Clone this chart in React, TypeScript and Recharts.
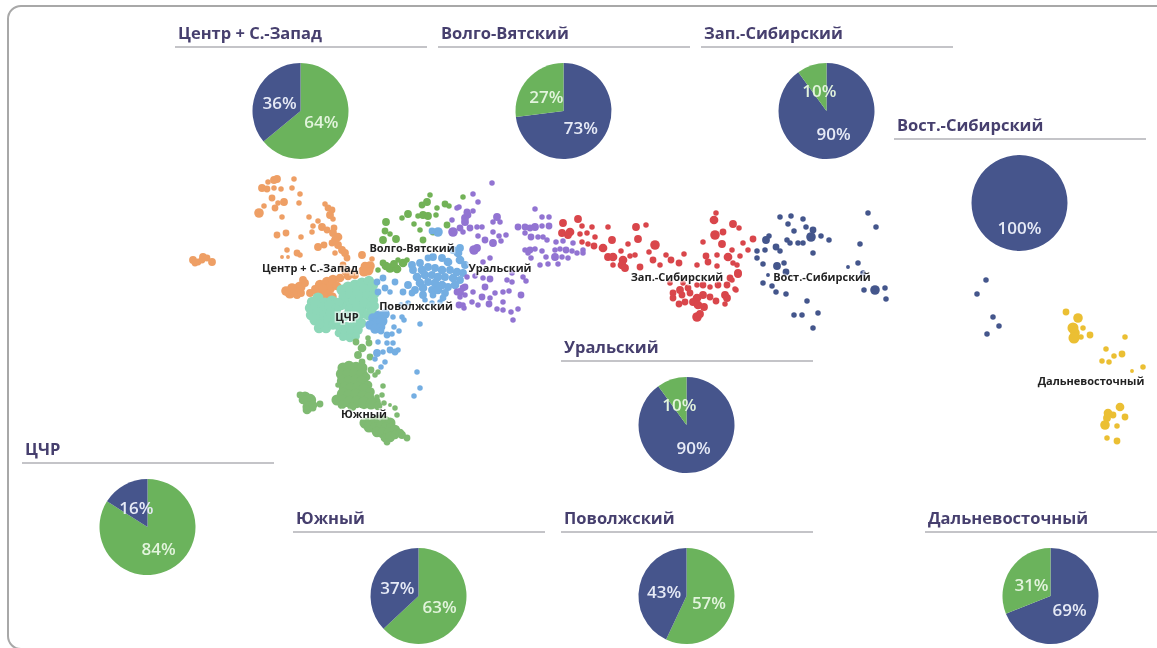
import React from 'react';
import { Pie, PieChart, Cell, Scatter, ScatterChart, XAxis, YAxis, ZAxis } from 'recharts';

const WIDTH = 1157;
const HEIGHT = 648;

const BLUE = '#46558c';
const GREEN = '#6bb35c';

// share panels
const panelNames = ['Центр + С.-Запад', 'Волго-Вятский', 'Зап.-Сибирский', 'Вост.-Сибирский', 'Уральский', 'ЦЧР', 'Южный', 'Поволжский', 'Дальневосточный'];
const blueShare = [36, 73, 90, 100, 90, 16, 37, 43, 69];
const greenShare = [64, 27, 10, 0, 10, 84, 63, 57, 31];
const blueFirst = [false, true, true, true, true, false, false, false, true];
const panelLeft = [175, 438, 701, 894, 561, 22, 293, 561, 925];
const panelRule = [46, 46, 46, 138, 360, 462, 531, 531, 531];

// map dots, [x, y, z]
const orangeDots = [
  [277, 179, 4], [274, 180, 4], [268, 182, 2], [294, 179, 2], [262, 188, 4], [267, 189, 3], [274, 188, 2], [281, 189, 2], [292, 188, 2], [300, 194, 2],
  [272, 198, 3], [284, 202, 4], [278, 203, 2], [275, 208, 3], [299, 203, 2], [264, 206, 2], [259, 213, 6], [282, 217, 2], [325, 204, 2], [328, 208, 3],
  [332, 210, 3], [330, 215, 4], [333, 219, 2], [309, 217, 2], [318, 221, 2], [313, 226, 2], [322, 227, 4], [327, 230, 3], [334, 228, 3], [312, 232, 2],
  [277, 235, 3], [286, 233, 3], [301, 237, 2], [333, 233, 4], [338, 237, 5], [335, 240, 4], [318, 247, 4], [324, 245, 3], [332, 243, 3], [338, 245, 4],
  [342, 250, 4], [345, 253, 4], [347, 258, 3], [335, 253, 2], [287, 250, 2], [297, 253, 3], [300, 255, 2], [282, 257, 1], [288, 257, 1], [362, 255, 4],
  [372, 259, 2], [368, 270, 8], [364, 271, 8], [370, 266, 6], [365, 266, 5], [290, 293, 8], [295, 290, 8], [300, 287, 8], [303, 280, 4], [292, 288, 6],
  [297, 295, 4], [286, 291, 6], [301, 293, 4], [310, 293, 4], [305, 283, 4], [320, 285, 7], [327, 282, 7], [333, 280, 7], [340, 278, 5], [318, 292, 7],
  [325, 293, 8], [332, 297, 6], [330, 288, 7], [337, 286, 5], [348, 276, 5], [355, 275, 4], [343, 265, 3], [343, 269, 2], [323, 288, 5], [315, 289, 4],
  [345, 272, 3], [326, 299, 5], [350, 272, 3], [193, 260, 4], [198, 262, 3], [203, 257, 4], [207, 258, 3], [212, 262, 4], [195, 263, 3], [202, 260, 3],
];
const mintDots = [
  [342, 290, 8], [348, 287, 8], [355, 285, 8], [362, 283, 8], [369, 281, 7], [373, 285, 7], [344, 297, 8], [351, 294, 8], [358, 292, 8], [365, 290, 8],
  [371, 292, 8], [347, 304, 8], [354, 301, 7], [361, 298, 8], [368, 297, 8], [373, 300, 7], [341, 305, 7], [350, 310, 8], [358, 307, 8], [365, 304, 8],
  [371, 308, 7], [362, 313, 8], [368, 315, 7], [372, 312, 6], [312, 302, 7], [318, 298, 8], [325, 303, 8], [332, 301, 8], [338, 303, 7], [310, 308, 7],
  [316, 305, 8], [323, 308, 8], [330, 306, 8], [336, 310, 7], [311, 315, 7], [318, 313, 8], [325, 315, 8], [331, 313, 7], [315, 320, 8], [322, 322, 8],
  [329, 320, 8], [336, 318, 7], [319, 328, 7], [326, 328, 7], [333, 325, 6], [320, 324, 5], [340, 327, 7], [347, 327, 7], [354, 326, 7], [361, 323, 7],
  [339, 333, 5], [346, 333, 7], [352, 332, 7], [358, 330, 6], [343, 337, 4], [350, 338, 5], [356, 336, 4], [340, 318, 6], [357, 318, 7], [345, 316, 6],
  [375, 294, 5], [375, 306, 5],
];
const southDots = [
  [356, 342, 3], [368, 338, 2], [369, 343, 3], [362, 348, 5], [358, 355, 4], [362, 362, 3], [370, 357, 3], [371, 370, 3], [378, 372, 2], [375, 375, 2],
  [343, 368, 8], [349, 367, 10], [356, 368, 10], [362, 368, 8], [342, 374, 10], [348, 375, 10], [355, 374, 10], [362, 375, 10], [366, 377, 5], [343, 381, 10],
  [349, 382, 10], [356, 381, 10], [362, 382, 10], [368, 385, 5], [345, 388, 10], [351, 389, 10], [358, 388, 10], [364, 390, 10], [370, 392, 6], [343, 394, 10],
  [349, 396, 10], [356, 395, 10], [363, 397, 10], [369, 398, 8], [376, 402, 6], [337, 400, 8], [343, 401, 10], [350, 402, 10], [357, 402, 10], [364, 403, 10],
  [371, 404, 8], [378, 406, 5], [342, 405, 5], [352, 407, 5], [365, 423, 8], [371, 422, 8], [376, 421, 8], [380, 420, 8], [385, 421, 7], [390, 423, 8],
  [369, 427, 8], [375, 428, 8], [381, 427, 8], [386, 428, 8], [391, 428, 7], [377, 432, 7], [383, 433, 8], [389, 433, 8], [395, 430, 7], [385, 438, 5],
  [390, 437, 7], [395, 435, 5], [400, 433, 5], [387, 442, 3], [402, 435, 4], [407, 438, 3], [305, 397, 8], [310, 400, 10], [303, 400, 5], [308, 407, 8],
  [307, 410, 5], [313, 405, 5], [320, 404, 3], [300, 395, 3], [313, 408, 3], [383, 386, 2], [377, 397, 2], [382, 395, 2], [384, 403, 2], [395, 408, 2],
  [397, 415, 2], [390, 405, 1], [338, 385, 2],
];
const volgaDots = [
  [430, 195, 2], [463, 197, 2], [427, 202, 4], [422, 205, 3], [437, 208, 2], [445, 204, 3], [449, 206, 2], [423, 215, 4], [428, 216, 4], [418, 216, 2],
  [436, 215, 2], [408, 214, 4], [402, 218, 2], [386, 222, 4], [414, 224, 2], [428, 224, 2], [420, 230, 2], [385, 231, 3], [390, 234, 2], [383, 240, 4],
  [396, 239, 4], [433, 232, 3], [447, 225, 3], [423, 240, 3], [383, 263, 3], [390, 268, 6], [397, 269, 5], [403, 263, 5], [386, 266, 5], [394, 264, 4],
  [378, 270, 2], [398, 260, 2], [407, 260, 2],
];
const volgaBlueDots = [
  [438, 232, 6], [432, 231, 3], [433, 257, 4], [442, 258, 4], [448, 262, 5], [458, 253, 5], [460, 260, 5], [465, 265, 4], [412, 265, 4], [420, 263, 4],
  [413, 270, 4], [422, 270, 5], [428, 267, 4], [435, 268, 4], [442, 270, 5], [450, 270, 4], [457, 272, 5], [463, 273, 4], [417, 277, 5], [425, 275, 5],
  [432, 275, 4], [438, 277, 5], [445, 277, 4], [453, 278, 5], [460, 280, 4], [420, 283, 5], [428, 282, 4], [435, 283, 5], [442, 285, 5], [448, 287, 4],
  [455, 285, 5], [408, 285, 4], [415, 290, 4], [423, 288, 5], [432, 290, 4], [438, 290, 5], [445, 293, 4], [395, 282, 3], [383, 278, 3], [377, 282, 3],
  [385, 288, 3], [378, 292, 3], [390, 292, 2], [403, 292, 3], [412, 293, 3], [423, 295, 4], [433, 295, 3], [443, 298, 3], [460, 248, 4], [453, 250, 4],
  [428, 258, 3], [432, 303, 2], [440, 302, 2], [425, 300, 2], [408, 303, 2], [401, 305, 2], [373, 318, 6], [379, 316, 8], [385, 314, 6], [376, 323, 8],
  [382, 321, 8], [370, 325, 6], [375, 329, 6], [381, 327, 5], [393, 317, 2], [402, 317, 2], [404, 320, 2], [420, 324, 2], [394, 327, 2], [399, 331, 2],
  [381, 331, 3], [387, 335, 3], [392, 334, 2], [378, 342, 2], [387, 343, 2], [393, 343, 2], [390, 350, 3], [395, 352, 3], [398, 350, 2], [383, 352, 2],
  [377, 353, 4], [375, 359, 2], [385, 362, 2], [381, 367, 2], [417, 372, 2], [420, 388, 2], [414, 396, 2],
];
const uralDots = [
  [492, 183, 2], [473, 194, 2], [478, 202, 2], [459, 207, 2], [467, 212, 3], [473, 211, 2], [465, 218, 4], [468, 215, 3], [452, 220, 2], [497, 217, 4],
  [493, 222, 2], [500, 222, 2], [477, 227, 2], [482, 227, 2], [470, 228, 3], [453, 232, 6], [463, 232, 2], [478, 236, 2], [493, 232, 2], [499, 236, 2],
  [506, 235, 2], [485, 240, 3], [493, 243, 4], [501, 241, 2], [474, 250, 6], [477, 248, 4], [483, 262, 2], [490, 258, 2], [512, 273, 2], [523, 277, 2],
  [490, 279, 3], [507, 280, 2], [512, 282, 2], [526, 281, 2], [475, 276, 2], [467, 277, 2], [483, 278, 2], [485, 287, 3], [463, 288, 3], [457, 292, 3],
  [473, 292, 2], [495, 293, 2], [503, 292, 2], [509, 291, 2], [521, 295, 3], [482, 297, 3], [490, 298, 2], [460, 297, 2], [465, 295, 2], [503, 302, 2],
  [472, 302, 2], [478, 305, 2], [489, 304, 3], [459, 305, 3], [464, 308, 2], [497, 309, 2], [503, 310, 2], [511, 312, 2], [518, 309, 2], [513, 320, 2],
  [535, 209, 2], [542, 217, 2], [549, 217, 2], [518, 227, 3], [525, 227, 3], [530, 228, 3], [535, 227, 4], [542, 226, 2], [549, 226, 3], [525, 233, 2],
  [531, 237, 3], [538, 237, 2], [543, 237, 2], [547, 240, 2], [556, 242, 2], [563, 241, 2], [573, 243, 2], [525, 250, 2], [530, 250, 3], [535, 249, 2],
  [542, 251, 2], [555, 250, 2], [560, 249, 2], [566, 250, 3], [572, 251, 2], [577, 253, 2], [583, 250, 2], [583, 253, 2], [528, 253, 2], [546, 257, 2],
  [555, 257, 4], [562, 257, 2], [568, 258, 2], [540, 265, 2], [548, 264, 2], [558, 264, 2], [531, 258, 2], [457, 208, 2], [467, 213, 3], [465, 222, 4],
  [460, 228, 3], [460, 292, 4], [465, 287, 3], [463, 305, 2],
];
const redDots = [
  [578, 219, 4], [563, 223, 4], [582, 226, 2], [592, 227, 2], [608, 227, 2], [636, 227, 4], [646, 225, 2], [562, 233, 4], [570, 232, 5], [568, 235, 4],
  [580, 234, 2], [587, 233, 2], [595, 237, 2], [582, 242, 2], [588, 244, 2], [594, 246, 3], [603, 248, 5], [612, 240, 4], [628, 244, 2], [638, 239, 4],
  [655, 245, 6], [621, 251, 2], [649, 252, 2], [608, 257, 4], [613, 257, 5], [623, 260, 5], [622, 265, 5], [625, 268, 4], [630, 256, 2], [635, 255, 2],
  [640, 267, 3], [653, 260, 3], [660, 265, 2], [666, 255, 2], [671, 260, 3], [679, 263, 3], [684, 254, 2], [697, 265, 2], [703, 242, 2], [716, 213, 2],
  [714, 220, 5], [733, 224, 4], [723, 232, 3], [715, 235, 6], [722, 244, 4], [706, 256, 3], [717, 255, 2], [732, 250, 2], [728, 257, 5], [708, 262, 3],
  [717, 266, 2], [733, 263, 2], [738, 273, 4], [730, 278, 3], [735, 289, 2], [613, 265, 2], [673, 293, 3], [680, 290, 4], [688, 288, 3], [697, 285, 2],
  [703, 285, 3], [710, 287, 2], [718, 285, 3], [727, 285, 3], [673, 298, 3], [682, 295, 3], [690, 293, 3], [697, 298, 5], [703, 295, 4], [710, 297, 3],
  [716, 301, 3], [725, 295, 4], [725, 304, 2], [727, 298, 4], [679, 304, 3], [685, 302, 3], [693, 302, 4], [698, 305, 5], [704, 307, 4], [697, 317, 6],
  [700, 314, 4], [670, 283, 2], [683, 283, 2], [739, 228, 2], [753, 239, 3], [743, 243, 2], [748, 250, 2], [740, 256, 2], [737, 265, 2], [738, 274, 4],
  [732, 280, 2], [736, 290, 2],
];
const navyDots = [
  [780, 217, 2], [791, 216, 2], [803, 219, 2], [868, 213, 2], [788, 224, 2], [806, 227, 2], [813, 230, 3], [794, 231, 2], [876, 227, 2], [769, 236, 2],
  [766, 240, 4], [811, 237, 6], [821, 236, 2], [829, 240, 2], [787, 240, 2], [790, 243, 2], [798, 243, 2], [803, 243, 2], [860, 244, 2], [776, 247, 3],
  [780, 251, 2], [757, 251, 2], [765, 250, 2], [813, 253, 2], [757, 258, 2], [763, 264, 2], [784, 263, 2], [777, 266, 4], [858, 263, 2], [848, 267, 1],
  [786, 272, 3], [768, 275, 1], [863, 273, 2], [763, 283, 2], [772, 286, 2], [776, 292, 2], [786, 294, 2], [864, 290, 2], [875, 290, 6], [885, 288, 2],
  [886, 299, 2], [807, 301, 2], [794, 315, 2], [802, 315, 2], [818, 313, 2], [813, 328, 2], [986, 280, 2], [977, 294, 2], [993, 317, 2], [999, 326, 2],
  [987, 334, 2],
];
const yellowDots = [
  [1066, 312, 3], [1078, 318, 6], [1073, 328, 8], [1083, 328, 2], [1075, 333, 6], [1074, 338, 8], [1081, 337, 2], [1090, 335, 3], [1125, 337, 2], [1106, 349, 2],
  [1122, 354, 3], [1114, 356, 2], [1102, 361, 2], [1109, 362, 2], [1143, 367, 2], [1132, 371, 1], [1120, 407, 5], [1108, 413, 5], [1113, 415, 3], [1125, 417, 3],
  [1107, 418, 4], [1105, 425, 6], [1117, 426, 2], [1107, 438, 2], [1117, 441, 3],
];
const mapLabels = [
  { name: 'Центр + С.-Запад', x: 310, y: 267 },
  { name: 'Волго-Вятский', x: 412, y: 247 },
  { name: 'Уральский', x: 500, y: 267 },
  { name: 'Зап.-Сибирский', x: 677, y: 276 },
  { name: 'Вост.-Сибирский', x: 822, y: 276 },
  { name: 'ЦЧР', x: 347, y: 316 },
  { name: 'Поволжский', x: 416, y: 305 },
  { name: 'Южный', x: 364, y: 413 },
  { name: 'Дальневосточный', x: 1091, y: 380 },
];

const series = [
  { data: orangeDots, color: '#ee9f65' },
  { data: mintDots, color: '#8dd7b8' },
  { data: southDots, color: '#7fba72' },
  { data: volgaDots, color: '#72b257' },
  { data: volgaBlueDots, color: '#74aee2' },
  { data: uralDots, color: '#9274d2' },
  { data: redDots, color: '#d9464b' },
  { data: navyDots, color: '#44568c' },
  { data: yellowDots, color: '#ebbf33' },
];

const toPoints = (rows: number[][]) => rows.map(([x, y, z]) => ({ x, y, z }));

const MapLabel = (props: any) => (
  <text
    x={props.cx}
    y={props.cy}
    textAnchor="middle"
    dominantBaseline="central"
    fontFamily="'Open Sans', sans-serif"
    fontSize={11}
    fontWeight={700}
    fill="#222"
    stroke="rgba(255,255,255,0.55)"
    strokeWidth={3}
    paintOrder="stroke"
  >
    {props.payload.name}
  </text>
);

const renderShare = (props: any) => {
  const { cx, cy, midAngle, value, fill } = props;
  if (!value) return null;
  const rad = (midAngle * Math.PI) / 180;
  return (
    <text
      x={cx + 23 * Math.cos(rad)}
      y={cy + 1 - 23 * Math.sin(rad)}
      textAnchor="middle"
      dominantBaseline="central"
      fontFamily="'Open Sans', sans-serif"
      fontSize={17}
      fontWeight={600}
      fill={fill === BLUE ? '#e6eaf6' : '#e2f4dc'}
    >
      {value}%
    </text>
  );
};

const Panel = ({ index }: { index: number }) => {
  const slices = blueFirst[index]
    ? [{ value: blueShare[index], fill: BLUE }, { value: greenShare[index], fill: GREEN }]
    : [{ value: greenShare[index], fill: GREEN }, { value: blueShare[index], fill: BLUE }];
  return (
    <div style={{ position: 'absolute', left: panelLeft[index], top: panelRule[index] - 30, width: 252 }}>
      <div
        style={{
          height: 32,
          paddingLeft: 3,
          paddingTop: 6,
          boxSizing: 'border-box',
          borderBottom: '2px solid #c4c4c8',
          fontFamily: "'Open Sans', sans-serif",
          fontWeight: 700,
          fontSize: 16.5,
          lineHeight: '22px',
          color: '#463f6e',
          whiteSpace: 'nowrap',
        }}
      >
        {panelNames[index]}
      </div>
      <PieChart width={252} height={118} margin={{ top: 0, right: 0, bottom: 0, left: 0 }}>
        <Pie
          data={slices}
          dataKey="value"
          cx={125.5}
          cy={63}
          outerRadius={48}
          startAngle={90}
          endAngle={-270}
          stroke="none"
          label={renderShare}
          labelLine={false}
          isAnimationActive={false}
        >
          {slices.map((s, i) => (
            <Cell key={i} fill={s.fill} />
          ))}
        </Pie>
      </PieChart>
    </div>
  );
};

export default function App() {
  return (
    <div
      style={{
        position: 'absolute',
        left: 0,
        top: 0,
        width: WIDTH,
        height: HEIGHT,
        overflow: 'hidden',
        background: '#fff',
        filter: 'blur(0.45px)',
      }}
    >
      <div
        style={{
          position: 'absolute',
          left: 7,
          top: 5,
          width: WIDTH + 20,
          height: HEIGHT - 3,
          boxSizing: 'border-box',
          border: '2px solid #a8a8a8',
          borderRadius: 14,
        }}
      />
      <div style={{ position: 'absolute', left: 0, top: 0 }}>
        <ScatterChart width={WIDTH} height={HEIGHT} margin={{ top: 0, right: 0, bottom: 0, left: 0 }}>
          <XAxis type="number" dataKey="x" domain={[0, WIDTH]} hide />
          <YAxis type="number" dataKey="y" domain={[0, HEIGHT]} reversed hide />
          <ZAxis type="number" dataKey="z" domain={[0, 10]} range={[0, 120]} />
          {series.map((s, i) => (
            <Scatter key={i} data={toPoints(s.data)} fill={s.color} stroke="none" isAnimationActive={false} />
          ))}
          <Scatter data={mapLabels} shape={MapLabel} isAnimationActive={false} />
        </ScatterChart>
      </div>
      {panelNames.map((_, i) => (
        <Panel key={i} index={i} />
      ))}
    </div>
  );
}
